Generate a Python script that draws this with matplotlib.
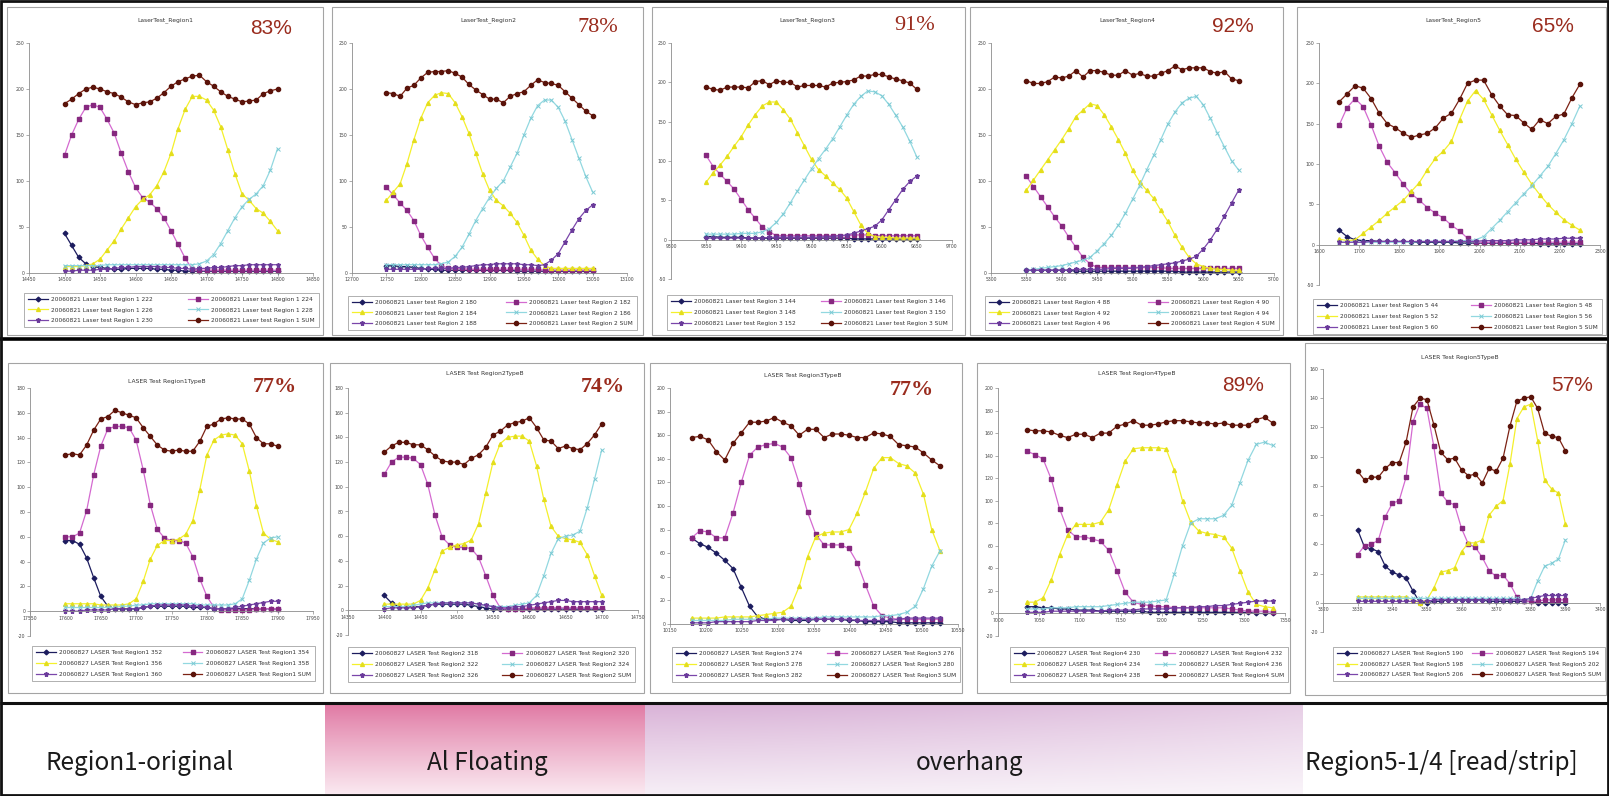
import numpy as np
import matplotlib
matplotlib.use("Agg")
import matplotlib.pyplot as plt
from matplotlib.patches import Rectangle

W, H = 1609, 796

# ---------------- data: top row (LaserTest_RegionN) ----------------
t1_x = np.arange(14500, 14801, 10)
t1_a = [43,30,17,10,7,6,5,4,4,5,5,5,5,4,4,3,3,2,2,2,2,2,2,2,2,2,2,2,2,2,2]
t1_b = [128,150,167,180,183,180,167,152,130,110,93,82,77,70,60,46,31,16,4,3,3,3,3,3,3,3,3,3,3,3,3]
t1_c = [7,7,7,8,10,15,25,35,48,60,72,80,85,95,110,130,157,178,192,192,188,177,159,134,108,86,79,70,65,56,46]
t1_d = [8,8,8,8,8,8,9,9,9,9,9,9,9,9,9,9,9,9,9,10,13,20,32,46,60,72,80,86,95,112,135]
t1_e = [2,2,3,3,3,4,4,5,6,6,7,7,7,7,6,6,5,5,4,5,5,6,6,7,8,8,9,9,9,9,9]
t1_s = [184,189,195,200,202,200,197,195,191,186,183,185,186,190,196,203,208,211,214,215,208,203,197,192,189,186,187,188,195,198,200]

t2_x = np.arange(12750, 13051, 10)
t2_a = [8,8,7,7,6,5,4,4,3,3,3,3,3,3,3,3,3,3,3,2,2,2,2,2,2,2,2,2,2,2,2]
t2_b = [93,85,76,68,57,41,28,16,8,5,5,5,4,4,4,4,4,4,4,4,4,4,4,3,3,3,3,3,3,3,3]
t2_c = [79,88,97,119,145,168,185,193,196,195,185,170,152,130,108,90,79,73,65,55,41,25,15,8,5,5,5,5,5,5,5]
t2_d = [9,9,9,9,9,9,9,9,10,12,18,28,42,57,70,82,92,100,115,130,150,168,182,188,188,180,165,145,125,105,88]
t2_e = [4,4,4,4,4,4,5,5,5,5,6,6,7,8,9,9,10,10,10,10,9,9,8,9,14,21,34,47,59,68,74]
t2_s = [196,195,192,201,204,212,218,219,219,220,217,213,205,199,194,189,189,185,192,195,197,204,210,207,206,204,197,190,183,176,171]

t3_x = np.arange(9350, 9651, 10)
t3_a = [4,4,3,3,3,3,2,2,2,2,2,2,2,2,2,2,2,2,2,2,2,1,1,1,1,1,1,1,1,1,1]
t3_b = [107,93,83,74,64,51,38,27,16,10,5,5,5,5,5,5,5,5,5,5,5,6,6,6,5,5,5,5,5,5,5]
t3_c = [73,85,95,106,119,131,146,159,170,175,175,165,153,136,119,102,89,81,72,64,53,36,19,8,4,3,3,2,2,2,2]
t3_d = [7,7,7,7,7,8,8,8,10,14,22,33,47,62,76,90,103,115,128,143,158,172,182,189,188,183,172,158,143,125,105]
t3_e = [2,2,2,2,2,2,2,2,2,3,3,3,3,3,3,3,3,4,4,5,6,8,11,14,17,25,38,51,64,74,81]
t3_s = [194,191,190,194,194,194,193,201,202,197,202,200,200,194,196,196,196,194,199,200,201,203,208,208,210,210,207,204,202,199,191]

t4_x = np.arange(5350, 5651, 10)
t4_a = [3,3,3,3,3,3,3,2,2,2,2,2,2,2,2,2,2,2,2,2,2,2,1,1,1,1,1,1,1,1,1]
t4_b = [105,94,83,72,61,51,39,28,17,10,6,6,6,6,6,6,6,6,6,6,5,5,5,5,5,5,5,5,5,5,5]
t4_c = [90,101,112,123,134,145,157,170,177,184,182,172,159,145,130,112,99,90,81,68,56,41,28,17,10,7,5,4,4,3,3]
t4_d = [3,4,5,6,7,8,10,12,14,17,24,32,41,52,65,80,95,112,128,145,162,175,185,190,192,183,168,152,137,122,112]
t4_e = [3,3,3,3,3,3,3,4,4,4,4,4,5,5,5,5,6,7,8,9,10,11,13,15,18,26,36,48,62,76,90]
t4_s = [209,206,206,208,213,212,214,220,213,220,220,218,215,215,220,215,217,214,214,217,220,225,221,223,223,223,219,217,219,211,209]

t5_x = np.arange(1650, 2251, 20)
t5_a = [18,10,6,5,5,4,4,4,4,3,3,3,3,3,3,2,2,2,2,2,2,2,2,2,2,1,1,1,1,1,1]
t5_b = [148,170,181,171,148,122,102,89,75,63,55,46,39,33,24,17,8,3,3,3,3,3,3,3,3,3,3,3,3,3,3]
t5_c = [7,5,6,14,22,30,39,47,55,66,77,93,107,116,128,155,178,191,180,161,142,124,106,90,75,62,50,40,31,24,18]
t5_d = [3,3,3,3,3,3,3,3,3,3,4,4,4,4,4,5,5,6,10,20,30,41,52,63,73,85,97,113,130,150,172]
t5_e = [3,3,3,3,4,4,4,4,4,4,4,4,4,4,4,4,4,4,5,5,5,5,6,6,6,7,7,7,8,8,8]
t5_s = [177,187,197,194,181,163,150,145,138,133,136,138,145,157,163,180,200,204,204,186,172,161,160,151,143,155,150,159,162,182,199]

# ---------------- data: bottom row (LASER Test RegionNTypeB) ----------------
b1_x = np.arange(17600, 17901, 10)
b1_a = [57,57,54,43,27,12,4,2,2,2,2,3,4,4,4,4,4,4,3,3,3,2,2,2,2,2,2,2,2,2,2]
b1_b = [60,60,63,81,110,133,147,149,149,148,138,114,86,66,59,57,57,55,44,26,12,3,1,1,1,1,1,2,2,2,2]
b1_c = [6,6,6,6,6,5,5,5,5,6,10,24,42,53,57,57,58,62,73,98,126,138,142,143,142,135,113,85,63,58,56]
b1_d = [3,3,3,3,3,3,3,3,4,4,5,5,6,6,6,6,6,6,6,5,5,5,5,5,6,10,25,42,55,59,60]
b1_e = [0,0,0,1,1,1,1,2,2,2,2,3,4,5,5,5,5,5,4,4,3,2,2,2,3,4,5,6,7,8,8]
b1_s = [126,127,126,134,146,155,157,162,160,158,156,148,141,134,130,129,130,129,129,137,149,151,155,156,155,155,151,140,135,135,133]

b2_x = np.arange(14400, 14701, 10)
b2_a = [12,6,3,3,3,3,4,5,5,5,5,5,4,3,2,1,1,1,1,1,1,1,1,1,1,1,1,1,1,1,1]
b2_b = [110,120,124,124,123,118,102,77,59,53,51,51,50,43,28,12,2,1,1,1,2,2,2,2,2,2,2,2,2,2,2]
b2_c = [5,5,5,5,5,8,18,33,48,51,53,54,57,70,95,120,135,140,141,141,137,117,90,68,60,58,57,55,45,28,12]
b2_d = [3,3,3,3,4,5,6,6,6,6,6,6,6,5,4,3,3,3,4,5,6,12,28,46,58,60,61,64,83,106,130]
b2_e = [1,2,2,2,2,3,4,5,6,6,6,6,6,5,4,3,2,2,3,3,4,5,6,7,8,8,7,7,7,7,7]
b2_s = [128,133,136,136,134,134,130,125,121,120,120,118,123,126,132,142,145,150,152,153,156,148,138,137,131,133,131,130,135,142,151]

b3_x = np.linspace(10180, 10525, 31)
b3_a = [73,68,65,60,54,47,31,15,6,4,4,4,3,3,3,4,4,4,4,3,3,2,2,2,2,1,1,1,1,1,1]
b3_b = [73,79,78,73,73,94,120,143,150,152,153,150,141,119,95,76,67,67,67,64,52,33,15,7,5,4,4,4,4,4,4]
b3_c = [5,5,5,5,6,6,6,6,7,8,9,10,15,32,57,74,77,78,78,80,94,112,132,141,141,136,134,128,110,80,62]
b3_d = [3,3,3,3,3,4,4,4,4,4,5,5,5,5,5,5,6,6,6,6,6,6,6,7,7,8,10,15,30,49,62]
b3_e = [1,1,1,2,2,2,2,2,3,3,3,4,4,4,4,4,4,4,4,4,3,3,3,3,3,4,5,5,5,5,5]
b3_s = [158,159,156,146,139,153,162,171,171,172,175,171,168,160,165,165,158,161,161,160,158,158,162,161,159,152,151,150,145,139,134]

b4_x = np.arange(7035, 7336, 10)
b4_a = [6,6,5,5,4,4,3,3,3,2,2,2,2,2,2,1,1,1,1,1,1,1,1,1,1,1,1,1,0,0,0]
b4_b = [144,141,137,119,93,74,68,68,66,64,56,38,19,10,8,7,6,6,5,5,5,5,5,5,5,4,3,2,2,2,1]
b4_c = [10,10,14,30,52,70,79,79,79,81,92,114,135,146,147,147,147,146,127,100,81,73,71,70,68,58,38,19,8,6,5]
b4_d = [4,4,4,5,5,5,6,6,6,6,7,8,9,10,10,10,11,12,35,60,80,84,84,84,87,96,116,136,150,152,149]
b4_e = [1,1,1,2,2,2,2,2,2,2,3,3,3,3,4,4,4,4,5,5,5,6,6,7,7,8,9,10,11,11,11]
b4_s = [163,162,162,161,158,156,159,159,156,160,160,166,168,171,167,167,168,170,171,171,170,169,169,168,169,167,167,167,172,174,169]

b5_x = np.arange(3330, 3391, 2)
b5_a = [50,38,37,35,25,21,19,17,8,0,0,1,1,2,2,2,2,2,2,1,1,1,1,1,1,1,0,0,0,0,0]
b5_b = [33,39,40,43,59,68,70,86,124,136,133,107,75,69,67,51,40,38,31,22,18,19,13,4,1,1,1,2,2,2,2]
b5_c = [4,4,4,4,4,4,4,4,2,0,2,10,21,22,24,35,41,41,43,60,66,70,95,126,134,136,111,84,78,75,54]
b5_d = [3,3,3,3,3,3,3,3,3,3,3,3,3,3,3,3,3,3,3,3,3,3,3,3,2,3,15,25,27,30,43]
b5_e = [1,1,1,1,1,1,1,1,1,1,1,2,2,2,2,2,2,2,2,2,2,2,2,2,2,3,4,5,5,5,5]
b5_s = [90,84,86,86,92,96,96,110,134,140,139,122,103,98,99,91,87,88,82,92,90,99,121,138,140,141,133,116,114,113,104]

top_titles = ["LaserTest_Region1", "LaserTest_Region2", "LaserTest_Region3",
              "LaserTest_Region4", "LaserTest_Region5"]
bottom_titles = ["LASER Test Region1TypeB", "LASER Test Region2TypeB", "LASER Test Region3TypeB",
                 "LASER Test Region4TypeB", "LASER Test Region5TypeB"]
top_pcts = ["83%", "78%", "91%", "92%", "65%"]
bottom_pcts = ["77%", "74%", "77%", "89%", "57%"]
top_codes = [["222", "224", "226", "228", "230"], ["180", "182", "184", "186", "188"],
             ["144", "146", "148", "150", "152"], ["88", "90", "92", "94", "96"],
             ["44", "48", "52", "56", "60"]]
bottom_codes = [["352", "354", "356", "358", "360"], ["318", "320", "322", "324", "326"],
                ["274", "276", "278", "280", "282"], ["230", "232", "234", "236", "238"],
                ["190", "194", "198", "202", "206"]]
band_labels = ["Region1-original", "Al Floating", "overhang", "Region5-1/4 [read/strip]"]

# ---------------- styles ----------------
STYLES = [
    dict(color='#1c1c5e', marker='D', ms=2.4, mfc='#1c1c5e', mec='#1c1c5e'),
    dict(color='#d46ad0', marker='s', ms=2.6, mfc='#86287f', mec='#86287f'),
    dict(color='#f4f02c', marker='^', ms=2.8, mfc='#e4de1c', mec='#e4de1c'),
    dict(color='#92d8e0', marker='x', ms=2.8, mfc='#92d8e0', mec='#7ccad4', mew=0.7),
    dict(color='#7a46aa', marker='*', ms=3.6, mfc='#6a3a9a', mec='#6a3a9a'),
    dict(color='#7c2214', marker='o', ms=3.0, mfc='#5a130a', mec='#5a130a'),
]
PCT_COLOR = '#9a2c1e'
SERIF = ['Liberation Serif', 'DejaVu Serif']
SANS = ['Liberation Sans', 'DejaVu Sans']

fig = plt.figure(figsize=(W / 100, H / 100), dpi=100)
fig.patch.set_facecolor('white')


def rect(x0, y0, x1, y1):
    return [x0 / W, 1 - y1 / H, (x1 - x0) / W, (y1 - y0) / H]


bg = fig.add_axes([0, 0, 1, 1], zorder=0)
bg.set_xlim(0, W)
bg.set_ylim(H, 0)
bg.axis('off')

# ---------------- bottom band with gradients ----------------
def band(x0, x1, y0, y1, top, bottom, fade_right=0.0):
    ny, nx = 60, 120
    t = np.linspace(0, 1, ny)[:, None, None] ** 0.9
    top = np.array(top) / 255.0
    bottom = np.array(bottom) / 255.0
    img = top * (1 - t) + bottom * t
    img = np.repeat(img, nx, axis=1)
    if fade_right:
        h = np.linspace(0, 1, nx)[None, :, None] ** 1.5 * fade_right
        img = img * (1 - h) + h
    bg.imshow(img, extent=(x0, x1, y1, y0), aspect='auto', interpolation='bilinear', zorder=0.5)


band(325, 645, 704, 794, (224, 120, 163), (250, 232, 240))
band(645, 1303, 704, 794, (217, 178, 215), (246, 238, 246), fade_right=0.35)
bg.set_xlim(0, W)
bg.set_ylim(H, 0)

band_pos = [(140, 'center'), (487, 'center'), (970, 'center'), (1305, 'left')]
for lab, (bx, ha) in zip(band_labels, band_pos):
    bg.text(bx, 763, lab, ha=ha, va='center', fontsize=17.5, color='#1a1a1a',
            family=['Noto Sans CJK KR', 'DejaVu Sans'], zorder=2)

# separators and outer border
bg.plot([0, W], [338.5, 338.5], color='black', lw=2.6, zorder=3, solid_capstyle='butt')
bg.plot([0, W], [703, 703], color='#111111', lw=2.2, zorder=3, solid_capstyle='butt')
bg.add_patch(Rectangle((1.2, 1.2), W - 2.4, H - 2.4, fill=False, ec='#111111', lw=2.0, zorder=3))


# ---------------- chart panels ----------------
def panel(frame, plot, leg, title, title_xy, pct, pct_xy, pct_family, pct_size, pct_weight,
          x, series, labels, xticks, yticks):
    fx0, fy0, fx1, fy1 = frame
    bg.add_patch(Rectangle((fx0, fy0), fx1 - fx0, fy1 - fy0, fc='white', ec='#a4a4a4', lw=0.8, zorder=1))
    bg.text(title_xy[0], title_xy[1], title, ha='center', va='center', fontsize=4.3, color='#333333', zorder=2)
    fig.text(pct_xy[0] / W, 1 - pct_xy[1] / H, pct, ha='center', va='center', fontsize=pct_size,
             color=PCT_COLOR, family=pct_family, weight=pct_weight, zorder=5)

    px0, py0, px1, py1 = plot
    ax = fig.add_axes(rect(px0, py0, px1, py1), zorder=2)
    ax.set_facecolor('none')
    handles = []
    for vals, st in zip(series, STYLES):
        h, = ax.plot(x, vals, lw=0.9, clip_on=False, **st)
        handles.append(h)
    ax.set_xlim(xticks[0], xticks[-1])
    ax.set_ylim(yticks[0], yticks[-1])
    ax.set_xticks(xticks)
    ax.set_yticks(yticks)
    ax.set_xticklabels([str(v) for v in xticks])
    ax.set_yticklabels([str(v) for v in yticks])
    for s in ('top', 'right'):
        ax.spines[s].set_visible(False)
    ax.spines['bottom'].set_position(('data', 0))
    for s in ('left', 'bottom'):
        ax.spines[s].set_color('#8c8c8c')
        ax.spines[s].set_linewidth(0.6)
    ax.tick_params(axis='both', which='both', direction='out', length=2, width=0.5,
                   color='#8c8c8c', labelsize=3.3, labelcolor='#444444', pad=1.2)

    lx0, ly0, lx1, ly1 = leg
    lax = fig.add_axes(rect(lx0, ly0, lx1, ly1), zorder=3)
    lax.axis('off')
    order = [0, 2, 4, 1, 3, 5]
    lg = lax.legend([handles[i] for i in order], [labels[i] for i in order], ncol=2,
                    loc='center', bbox_to_anchor=(0, 0, 1, 1), mode='expand', fontsize=4.2,
                    frameon=True, fancybox=False, borderaxespad=0, handlelength=3.4,
                    labelspacing=0.95, borderpad=0.7, handletextpad=0.6, columnspacing=1.0)
    fr = lg.get_frame()
    fr.set_edgecolor('#8c8c8c')
    fr.set_linewidth(0.6)
    for t in lg.get_texts():
        t.set_color('#333333')


top_series = [
    (t1_x, [t1_a, t1_b, t1_c, t1_d, t1_e, t1_s]),
    (t2_x, [t2_a, t2_b, t2_c, t2_d, t2_e, t2_s]),
    (t3_x, [t3_a, t3_b, t3_c, t3_d, t3_e, t3_s]),
    (t4_x, [t4_a, t4_b, t4_c, t4_d, t4_e, t4_s]),
    (t5_x, [t5_a, t5_b, t5_c, t5_d, t5_e, t5_s]),
]
bottom_series = [
    (b1_x, [b1_a, b1_b, b1_c, b1_d, b1_e, b1_s]),
    (b2_x, [b2_a, b2_b, b2_c, b2_d, b2_e, b2_s]),
    (b3_x, [b3_a, b3_b, b3_c, b3_d, b3_e, b3_s]),
    (b4_x, [b4_a, b4_b, b4_c, b4_d, b4_e, b4_s]),
    (b5_x, [b5_a, b5_b, b5_c, b5_d, b5_e, b5_s]),
]

top_xticks = [list(range(14450, 14851, 50)), list(range(12700, 13101, 50)),
              list(range(9300, 9701, 50)), list(range(5300, 5701, 50)),
              list(range(1600, 2301, 100))]
top_yticks = [list(range(0, 251, 50)), list(range(0, 251, 50)), list(range(-50, 251, 50)),
              list(range(0, 251, 50)), list(range(-50, 251, 50))]
bottom_xticks = [list(range(17550, 17951, 50)), list(range(14350, 14751, 50)),
                 list(range(10150, 10551, 50)), list(range(7000, 7351, 50)),
                 list(range(3320, 3401, 10))]
bottom_yticks = [list(range(-20, 181, 20)), list(range(-20, 181, 20)), list(range(0, 201, 20)),
                 list(range(-20, 201, 20)), list(range(-20, 161, 20))]

top_frames = [(7, 7, 323, 335), (332, 7, 643, 335), (652, 7, 965, 335),
              (970, 7, 1283, 335), (1297, 7, 1606, 335)]
top_plots = [(29, 43, 313, 273), (352, 43, 627, 273), (671, 43, 952, 279),
             (991, 43, 1274, 273), (1319, 43, 1600, 285)]
top_legs = [(24, 288, 319, 332), (348, 294, 637, 332), (667, 293, 952, 332),
            (985, 294, 1279, 332), (1313, 299, 1602, 334)]
top_title_xy = [(165, 20), (488, 20), (807, 20), (1127, 20), (1453, 20)]
top_pct_xy = [(271, 28), (598, 28), (915, 26), (1233, 26), (1553, 26)]
top_pct_font = [(SANS, 15, 'normal'), (SERIF, 16, 'normal'), (SERIF, 16, 'normal'),
                (SANS, 15, 'normal'), (SANS, 15, 'normal')]

bottom_frames = [(8, 363, 323, 693), (330, 363, 644, 693), (650, 363, 962, 693),
                 (977, 363, 1290, 693), (1305, 343, 1606, 695)]
bottom_plots = [(30, 388, 313, 636), (348, 388, 638, 635), (670, 388, 958, 624),
                (998, 388, 1285, 636), (1323, 369, 1600, 632)]
bottom_legs = [(32, 638, 315, 689), (348, 640, 635, 689), (672, 640, 960, 689),
               (1010, 640, 1288, 689), (1333, 637, 1605, 691)]
bottom_title_xy = [(167, 382), (485, 373), (803, 375), (1137, 373), (1460, 358)]
bottom_pct_xy = [(275, 387), (603, 387), (912, 390), (1243, 385), (1572, 385)]
bottom_pct_font = [(SERIF, 16, 'bold'), (SERIF, 16, 'bold'), (SERIF, 16, 'bold'),
                   (SANS, 15, 'normal'), (SANS, 15, 'normal')]

for i in range(5):
    x, ser = top_series[i]
    labels = [f"20060821 Laser test Region {i + 1} {c}" for c in top_codes[i]]
    labels.append(f"20060821 Laser test Region {i + 1} SUM")
    fam, size, wt = top_pct_font[i]
    panel(top_frames[i], top_plots[i], top_legs[i], top_titles[i], top_title_xy[i],
          top_pcts[i], top_pct_xy[i], fam, size, wt, x, ser, labels, top_xticks[i], top_yticks[i])

for i in range(5):
    x, ser = bottom_series[i]
    labels = [f"20060827 LASER Test Region{i + 1} {c}" for c in bottom_codes[i]]
    labels.append(f"20060827 LASER Test Region{i + 1} SUM")
    fam, size, wt = bottom_pct_font[i]
    panel(bottom_frames[i], bottom_plots[i], bottom_legs[i], bottom_titles[i], bottom_title_xy[i],
          bottom_pcts[i], bottom_pct_xy[i], fam, size, wt, x, ser, labels,
          bottom_xticks[i], bottom_yticks[i])

fig.savefig("out.png", dpi=100, facecolor='white')
